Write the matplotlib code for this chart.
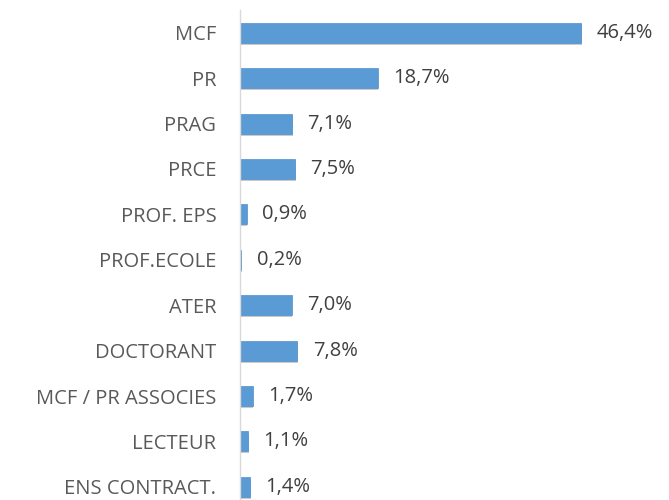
import matplotlib.pyplot as plt
import matplotlib.patheffects as pe

categories = ["MCF", "PR", "PRAG", "PRCE", "PROF. EPS", "PROF.ECOLE", "ATER",
              "DOCTORANT", "MCF / PR ASSOCIES", "LECTEUR", "ENS CONTRACT."]
values = [46.4, 18.7, 7.1, 7.5, 0.9, 0.2, 7.0, 7.8, 1.7, 1.1, 1.4]
value_labels = ["46,4%", "18,7%", "7,1%", "7,5%", "0,9%", "0,2%", "7,0%",
                "7,8%", "1,7%", "1,1%", "1,4%"]

plt.rcParams['font.family'] = ['Open Sans', 'DejaVu Sans']

fig = plt.figure(figsize=(6.69, 5.0), dpi=100)
ax = fig.add_axes([240 / 669, 0, 1 - 240 / 669, 490 / 500])

pos = list(range(len(categories)))
bars = ax.barh(pos, values, height=0.44, color='#5b9bd5', edgecolor='#4f8fcc',
               linewidth=0.5)
for b in bars:
    b.set_path_effects([pe.SimplePatchShadow(offset=(0.5, -1.5), shadow_rgbFace='#8a8a8a', alpha=0.45),
                        pe.Normal()])

for p, v, lab in zip(pos, values, value_labels):
    ax.annotate(lab, (v, p), xytext=(11, 0), textcoords='offset points',
                va='center', ha='left', fontsize=14.5, color='#404040')

ax.set_yticks(pos)
ax.set_yticklabels(categories, fontsize=14.5, color='#595959')
ax.tick_params(axis='y', length=0, pad=17)
ax.set_xticks([])
ax.set_xlim(0, 58.3)
ax.set_ylim(10.29, -0.5)

for s in ['top', 'right', 'bottom']:
    ax.spines[s].set_visible(False)
ax.spines['left'].set_color('#d9d9d9')
ax.spines['left'].set_linewidth(1)

fig.savefig('out.png', dpi=100)
